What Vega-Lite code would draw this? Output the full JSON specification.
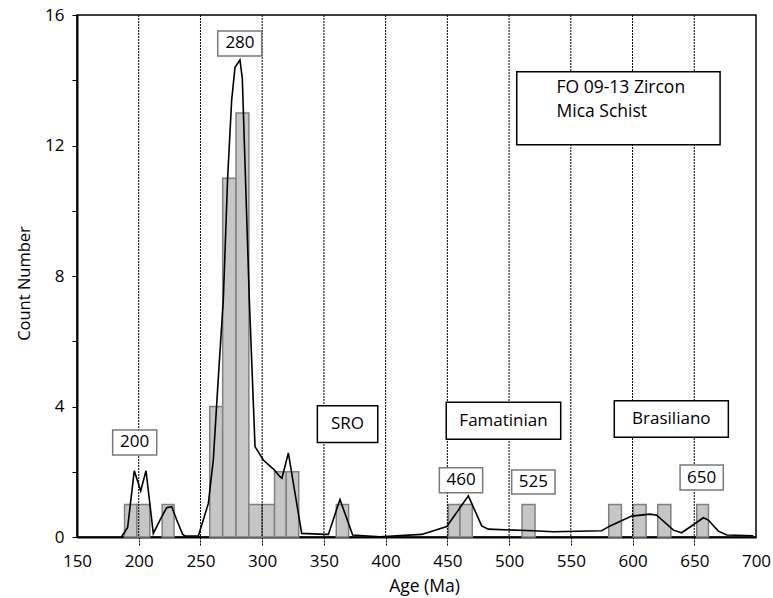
{
  "$schema": "https://vega.github.io/schema/vega-lite/v6.json",
  "autosize": "none",
  "width": 679,
  "height": 522,
  "padding": {"left": 77, "top": 15, "right": 17, "bottom": 61},
  "background": "white",
  "config": {
    "view": {"stroke": "black", "strokeWidth": 1.5},
    "font": "Open Sans",
    "axis": {"labelFont": "Open Sans", "titleFont": "Open Sans", "labelColor": "black", "titleColor": "black", "titleFontWeight": "normal", "labelFontSize": 17, "titleFontSize": 16.5, "domainColor": "black", "domainWidth": 2, "tickColor": "black", "grid": false}
  },
  "datasets": {
    "bars": [
      {"start": 188.5, "end": 198.5, "count": 1},
      {"start": 198.5, "end": 209, "count": 1},
      {"start": 219, "end": 228.6, "count": 1},
      {"start": 257.5, "end": 268, "count": 4},
      {"start": 268, "end": 278.8, "count": 11},
      {"start": 278.8, "end": 289.2, "count": 13},
      {"start": 289.2, "end": 300, "count": 1},
      {"start": 300, "end": 310, "count": 1},
      {"start": 310, "end": 319.5, "count": 2},
      {"start": 319.5, "end": 329.6, "count": 2},
      {"start": 360, "end": 370, "count": 1},
      {"start": 450.8, "end": 460.2, "count": 1},
      {"start": 460.2, "end": 470.2, "count": 1},
      {"start": 510.5, "end": 521, "count": 1},
      {"start": 580.7, "end": 591, "count": 1},
      {"start": 600.6, "end": 611, "count": 1},
      {"start": 620.4, "end": 631, "count": 1},
      {"start": 652, "end": 661.5, "count": 1}
    ],
    "curve": [
      {"age": 186, "p": 0}, {"age": 191, "p": 0.29}, {"age": 196.4, "p": 2.03}, {"age": 201.6, "p": 1.41},
      {"age": 205.9, "p": 2.03}, {"age": 211.8, "p": 0.11}, {"age": 217.2, "p": 0.52}, {"age": 222.6, "p": 0.9},
      {"age": 226.7, "p": 0.93}, {"age": 230.8, "p": 0.52}, {"age": 235.6, "p": 0.08}, {"age": 237.5, "p": 0.03},
      {"age": 248.3, "p": 0.03}, {"age": 256.4, "p": 1.03}, {"age": 260.4, "p": 2.36}, {"age": 264.5, "p": 4.9},
      {"age": 268.5, "p": 7.26}, {"age": 272, "p": 11.0}, {"age": 275.3, "p": 13.4}, {"age": 278, "p": 14.4},
      {"age": 282, "p": 14.62}, {"age": 283.9, "p": 14.06}, {"age": 289.6, "p": 7.26}, {"age": 294.2, "p": 2.77},
      {"age": 300.9, "p": 2.36}, {"age": 310, "p": 2.05}, {"age": 314.4, "p": 1.85}, {"age": 316, "p": 1.8},
      {"age": 321.2, "p": 2.58}, {"age": 332, "p": 0.11}, {"age": 350.9, "p": 0.08}, {"age": 353.6, "p": 0.08},
      {"age": 363, "p": 1.15}, {"age": 373.3, "p": 0.06}, {"age": 395.4, "p": 0.01}, {"age": 429.2, "p": 0.08},
      {"age": 449.5, "p": 0.32}, {"age": 467, "p": 1.26}, {"age": 477.8, "p": 0.34}, {"age": 483.2, "p": 0.24},
      {"age": 519.6, "p": 0.19}, {"age": 535.8, "p": 0.16}, {"age": 575, "p": 0.19}, {"age": 581.8, "p": 0.34},
      {"age": 599.3, "p": 0.64}, {"age": 614.2, "p": 0.7}, {"age": 619.6, "p": 0.67}, {"age": 633.1, "p": 0.21},
      {"age": 639.8, "p": 0.13}, {"age": 657.4, "p": 0.59}, {"age": 661.4, "p": 0.52}, {"age": 669.5, "p": 0.18},
      {"age": 676.3, "p": 0.06}, {"age": 697.8, "p": 0.04}
    ],
    "refs": [
      {"age": 200}, {"age": 250}, {"age": 300}, {"age": 350}, {"age": 400},
      {"age": 450}, {"age": 500}, {"age": 550}, {"age": 600}, {"age": 650}
    ],
    "boxes": [
      {"x1": 264.0, "x2": 299.6, "y1": 14.74, "y2": 15.51, "kind": "peak"},
      {"x1": 178.9, "x2": 214.6, "y1": 2.51, "y2": 3.28, "kind": "peak"},
      {"x1": 443.5, "x2": 478.6, "y1": 1.36, "y2": 2.12, "kind": "peak"},
      {"x1": 502.1, "x2": 537.2, "y1": 1.32, "y2": 2.05, "kind": "peak"},
      {"x1": 638.5, "x2": 673.5, "y1": 1.44, "y2": 2.21, "kind": "peak"},
      {"x1": 344.7, "x2": 393.6, "y1": 2.9, "y2": 4.02, "kind": "event"},
      {"x1": 449.1, "x2": 541.8, "y1": 3.0, "y2": 4.13, "kind": "event"},
      {"x1": 585.2, "x2": 677.6, "y1": 3.06, "y2": 4.18, "kind": "event"},
      {"x1": 506.2, "x2": 670.9, "y1": 12.02, "y2": 14.26, "kind": "event"}
    ],
    "labels": [
      {"x": 282, "y": 15.13, "text": "280"},
      {"x": 196.7, "y": 2.9, "text": "200"},
      {"x": 461.1, "y": 1.74, "text": "460"},
      {"x": 519.6, "y": 1.69, "text": "525"},
      {"x": 656, "y": 1.82, "text": "650"},
      {"x": 369.1, "y": 3.46, "text": "SRO"},
      {"x": 495.5, "y": 3.56, "text": "Famatinian"},
      {"x": 631.4, "y": 3.62, "text": "Brasiliano"}
    ],
    "title": [
      {"x": 538.4, "y": 13.75, "text": "FO 09-13 Zircon"},
      {"x": 538.4, "y": 13.04, "text": "Mica Schist"}
    ]
  },
  "layer": [
    {
      "data": {"name": "bars"},
      "mark": {"type": "bar", "orient": "vertical", "fill": "#c6c6c6", "stroke": "#808080", "strokeWidth": 1.5},
      "encoding": {
        "x": {"field": "start", "type": "quantitative", "scale": {"domain": [150, 700], "nice": false, "zero": false, "padding": 0},
          "axis": {"title": "Age (Ma)", "values": [150, 200, 250, 300, 350, 400, 450, 500, 550, 600, 650, 700], "tickSize": 8, "tickDash": [2, 1], "tickWidth": 1,
            "tickOpacity": {"condition": {"test": "datum.value == 150 || datum.value == 700", "value": 0}, "value": 1},
            "labelPadding": 8, "titlePadding": 8, "titleFontSize": 17.5, "titleX": 347, "labelFlush": false}},
        "x2": {"field": "end"},
        "y": {"field": "count", "type": "quantitative", "scale": {"domain": [0, 16], "nice": false, "padding": 0},
          "axis": {"title": "Count Number", "values": [0,1,2,3,4,5,6,7,8,9,10,11,12,13,14,15,16], "labelExpr": "datum.value % 4 === 0 ? datum.label : ''", "tickSize": 5, "labelPadding": 8, "titlePadding": 12, "titleY": 268}}
      }
    },
    {
      "data": {"name": "curve"},
      "mark": {"type": "line", "color": "black", "strokeWidth": 1.6},
      "encoding": {
        "x": {"field": "age", "type": "quantitative"},
        "y": {"field": "p", "type": "quantitative"}
      }
    },
    {
      "data": {"name": "refs"},
      "mark": {"type": "rule", "color": "black", "strokeWidth": 1, "strokeDash": [2, 1]},
      "encoding": {
        "x": {"field": "age", "type": "quantitative"}
      }
    },
    {
      "data": {"name": "boxes"},
      "mark": {"type": "rect", "fill": "white", "strokeWidth": 1.5},
      "encoding": {
        "x": {"field": "x1", "type": "quantitative"},
        "x2": {"field": "x2"},
        "y": {"field": "y1", "type": "quantitative"},
        "y2": {"field": "y2"},
        "stroke": {"field": "kind", "type": "nominal", "scale": {"domain": ["peak", "event"], "range": ["#7a7a7a", "black"]}, "legend": null}
      }
    },
    {
      "data": {"name": "labels"},
      "mark": {"type": "text", "fontSize": 17, "color": "black", "baseline": "middle", "align": "center"},
      "encoding": {
        "x": {"field": "x", "type": "quantitative"},
        "y": {"field": "y", "type": "quantitative"},
        "text": {"field": "text"}
      }
    },
    {
      "data": {"name": "title"},
      "mark": {"type": "text", "fontSize": 17.5, "color": "black", "baseline": "middle", "align": "left"},
      "encoding": {
        "x": {"field": "x", "type": "quantitative"},
        "y": {"field": "y", "type": "quantitative"},
        "text": {"field": "text"}
      }
    }
  ]
}
